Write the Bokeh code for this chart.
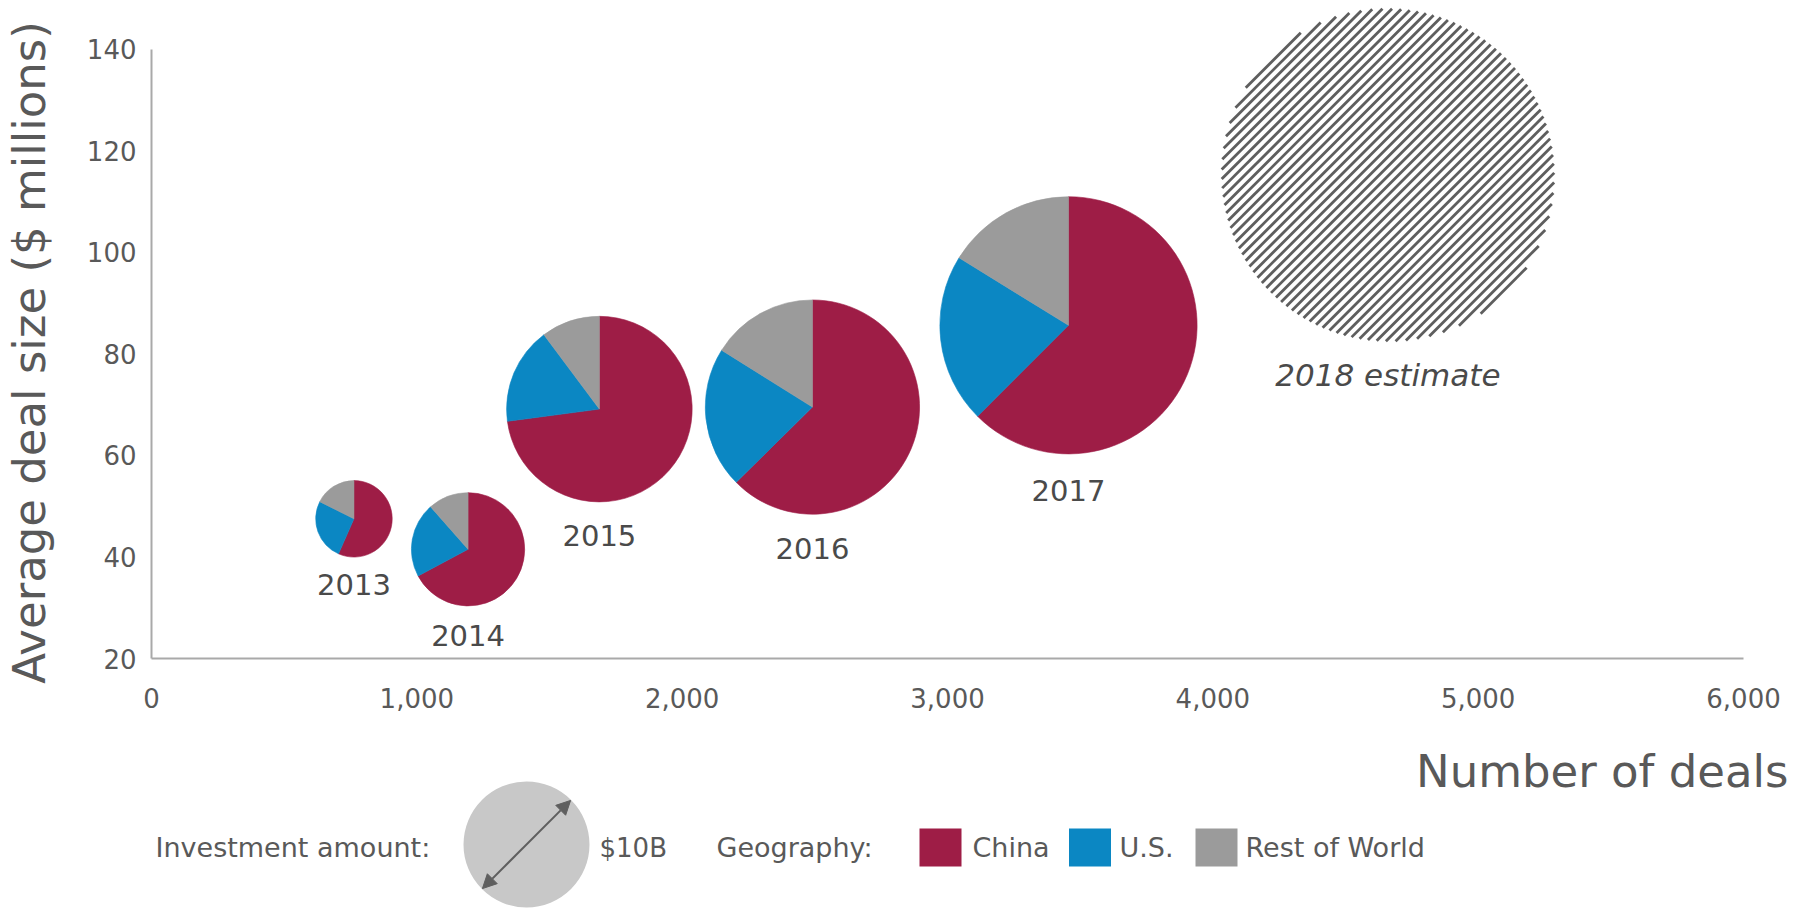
import math
import numpy as np
from bokeh.plotting import figure
from bokeh.models import (Range1d, Arrow, NormalHead, ColumnDataSource,
                          NumeralTickFormatter, FixedTicker)
from bokeh.layouts import column
from bokeh.core.properties import value
from bokeh.embed import file_html
from bokeh.resources import INLINE

# ---------------- data ----------------
years = ["2013", "2014", "2015", "2016", "2017"]
deals = [763, 1193, 1688, 2491, 3456]              # number of deals
avg_deal_size = [47.5, 41.5, 69.1, 69.5, 85.6]     # $ millions
investment_b = [26, 57, 153, 204, 294]             # total investment, $B (bubble area)
china_share = [56.6, 67.2, 72.9, 62.6, 62.5]       # % of investment
us_share = [25.8, 21.3, 16.9, 21.3, 21.3]
row_share = [17.6, 11.5, 10.2, 16.1, 16.2]

est_label = "2018 estimate"
est_deals = 4660
est_avg_deal_size = 115.2
est_investment_b = 496

geographies = ["China", "U.S.", "Rest of World"]
geo_colors = ["#9e1d46", "#0b87c3", "#9b9b9b"]

x_ticks = [0, 1000, 2000, 3000, 4000, 5000, 6000]
y_ticks = [20, 40, 60, 80, 100, 120, 140]

x_title = "Number of deals"
y_title = "Average deal size ($ millions)"
legend_amount_title = "Investment amount:"
legend_amount_label = "$10B"
legend_geo_title = "Geography:"

# ---------------- styling helpers ----------------
FONT = "DejaVu Sans"
TEXT = "#595959"
PX_PER_SQRT_B = 7.5  # bubble radius (px) per sqrt($B)

def radius_px(inv):
    return PX_PER_SQRT_B * math.sqrt(inv)

W = 1794
H1 = 726
H2 = 908 - H1
AXIS_X = 151                      # page x of the y axis (x = 0)
AXIS_Y = 658                      # page y of the x axis (y = 20)
PX_PER_X = 1592 / 6000.0          # 0..6000 over 1592 px
PX_PER_Y = (658 - 48.5) / 120.0   # 20..140 over ~610 px

# ---------------- main chart ----------------
# The frame fills the whole canvas; both axes are pinned (x = 0, y = 20).
p = figure(frame_width=W, frame_height=H1,
           min_border_left=0, min_border_right=0,
           min_border_top=0, min_border_bottom=0,
           x_range=Range1d(-AXIS_X / PX_PER_X, (W - AXIS_X) / PX_PER_X),
           y_range=Range1d(20 - (H1 - AXIS_Y) / PX_PER_Y, 20 + AXIS_Y / PX_PER_Y),
           output_backend="svg", toolbar_location=None, title=None)
p.outline_line_color = None
p.xgrid.visible = False
p.ygrid.visible = False
p.background_fill_color = "white"
p.border_fill_color = "white"

for ax in (p.xaxis, p.yaxis):
    ax.axis_line_color = "#a9a9a9"
    ax.axis_line_width = 2
    ax.major_tick_line_color = None
    ax.minor_tick_line_color = None
    ax.major_tick_out = 0
    ax.major_tick_in = 0
    ax.major_label_text_font = FONT
    ax.major_label_text_font_size = "26px"
    ax.major_label_text_color = TEXT

p.xaxis.ticker = FixedTicker(ticks=x_ticks)
p.xaxis.formatter = NumeralTickFormatter(format="0,0")
p.xaxis.bounds = (x_ticks[0], x_ticks[-1])
p.xaxis.major_label_standoff = 29
p.xaxis.fixed_location = y_ticks[0]
p.yaxis.ticker = FixedTicker(ticks=y_ticks)
p.yaxis.bounds = (y_ticks[0], y_ticks[-1])
p.yaxis.major_label_standoff = 15
p.yaxis.fixed_location = x_ticks[0]

# y-axis title (rotated text in the left margin of the frame)
p.text(x=[(29 - AXIS_X) / PX_PER_X], y=[20 + (AXIS_Y - 352) / PX_PER_Y], text=[y_title],
       angle=math.pi / 2, text_font=value(FONT), text_font_size="45px",
       text_color=TEXT, text_align="center", text_baseline="middle")

# pies
rows = dict(x=[], y=[], r=[], start=[], end=[], color=[])
for i in range(len(years)):
    shares = [china_share[i], us_share[i], row_share[i]]
    tot = sum(shares)
    cum = 0.0
    for s, c in zip(shares, geo_colors):
        a0 = math.pi / 2 - 2 * math.pi * cum / tot
        cum += s
        a1 = math.pi / 2 - 2 * math.pi * cum / tot
        rows["x"].append(deals[i])
        rows["y"].append(avg_deal_size[i])
        rows["r"].append(radius_px(investment_b[i]))
        rows["start"].append(a0)
        rows["end"].append(a1)
        rows["color"].append(c)
src = ColumnDataSource(rows)
p.wedge(x="x", y="y", radius="r", radius_units="screen",
        start_angle="start", end_angle="end", direction="clock",
        fill_color="color", line_color="color", line_width=0.6, source=src)

# year labels
lab = ColumnDataSource(dict(x=deals, y=avg_deal_size, text=years,
                            off=[1.1 * radius_px(v) + 24 for v in investment_b]))
p.text(x="x", y="y", text="text", y_offset="off", source=lab,
       text_font=value(FONT), text_font_size="29px", text_color="#4a4a4a",
       text_align="center", text_baseline="middle")

# 2018 estimate: striped bubble (diagonal chords of the bubble, computed in px)
est_r = radius_px(est_investment_b)
step = 9.6
cs = np.arange(-est_r * math.sqrt(2) + step / 2, est_r * math.sqrt(2), step)
x0s, y0s, x1s, y1s = [], [], [], []
for c in cs:
    half = est_r ** 2 - c * c / 2.0
    if half <= 4:
        continue
    L = math.sqrt(half) - 1.0
    mx, my = -c / 2.0, c / 2.0
    dx = L / math.sqrt(2)
    x0s.append(est_deals + (mx - dx) / PX_PER_X)
    y0s.append(est_avg_deal_size + (my - dx) / PX_PER_Y)
    x1s.append(est_deals + (mx + dx) / PX_PER_X)
    y1s.append(est_avg_deal_size + (my + dx) / PX_PER_Y)
p.segment(x0=x0s, y0=y0s, x1=x1s, y1=y1s, line_color="#5e5e5e",
          line_width=2.8, line_cap="butt")
p.text(x=[est_deals], y=[est_avg_deal_size], text=[est_label], y_offset=[est_r + 33],
       text_font=value(FONT), text_font_style="italic", text_font_size="31px",
       text_color="#4a4a4a", text_align="center", text_baseline="middle")

# ---------------- bottom strip: x title + legend (page px coordinates) ----------------
q = figure(frame_width=W, frame_height=H2,
           min_border_left=0, min_border_right=0,
           min_border_top=0, min_border_bottom=0,
           x_range=Range1d(0, W), y_range=Range1d(908, H1),
           output_backend="svg", toolbar_location=None, title=None,
           x_axis_type=None, y_axis_type=None)
q.outline_line_color = None
q.background_fill_color = "white"
q.border_fill_color = "white"
q.xgrid.visible = False
q.ygrid.visible = False

q.text(x=[1788], y=[771], text=[x_title], text_font=value(FONT),
       text_font_size="45px", text_color=TEXT, text_align="right",
       text_baseline="middle")

row_y = 847
LEG_FS = "27px"
q.text(x=[155], y=[row_y], text=[legend_amount_title], text_font=value(FONT),
       text_font_size=LEG_FS, text_color=TEXT, text_align="left", text_baseline="middle")

cx, cy, cr = 526, 844, 63
q.circle(x=[cx], y=[cy], radius=[cr], radius_units="screen",
         fill_color="#c8c8c8", line_color=None)
d = cr * 0.7
q.add_layout(Arrow(start=NormalHead(size=14, fill_color="#5f5f5f", line_color="#5f5f5f"),
                   end=NormalHead(size=14, fill_color="#5f5f5f", line_color="#5f5f5f"),
                   x_start=cx - d, y_start=cy + d, x_end=cx + d, y_end=cy - d,
                   line_color="#5f5f5f", line_width=2))
q.text(x=[599], y=[row_y], text=[legend_amount_label], text_font=value(FONT),
       text_font_size="26px", text_color=TEXT, text_align="left", text_baseline="middle")

q.text(x=[716], y=[row_y], text=[legend_geo_title], text_font=value(FONT),
       text_font_size=LEG_FS, text_color=TEXT, text_align="left", text_baseline="middle")

sq_x = [940, 1089.5, 1216]
txt_x = [972, 1119, 1245]
q.rect(x=sq_x, y=[row_y] * 3, width=42, height=38, fill_color=geo_colors, line_color=None)
q.text(x=txt_x, y=[row_y] * 3, text=geographies, text_font=value(FONT),
       text_font_size=LEG_FS, text_color=TEXT, text_align="left", text_baseline="middle")

layout = column(p, q, spacing=0)
open("out.html", "w").write(file_html(layout, INLINE))
